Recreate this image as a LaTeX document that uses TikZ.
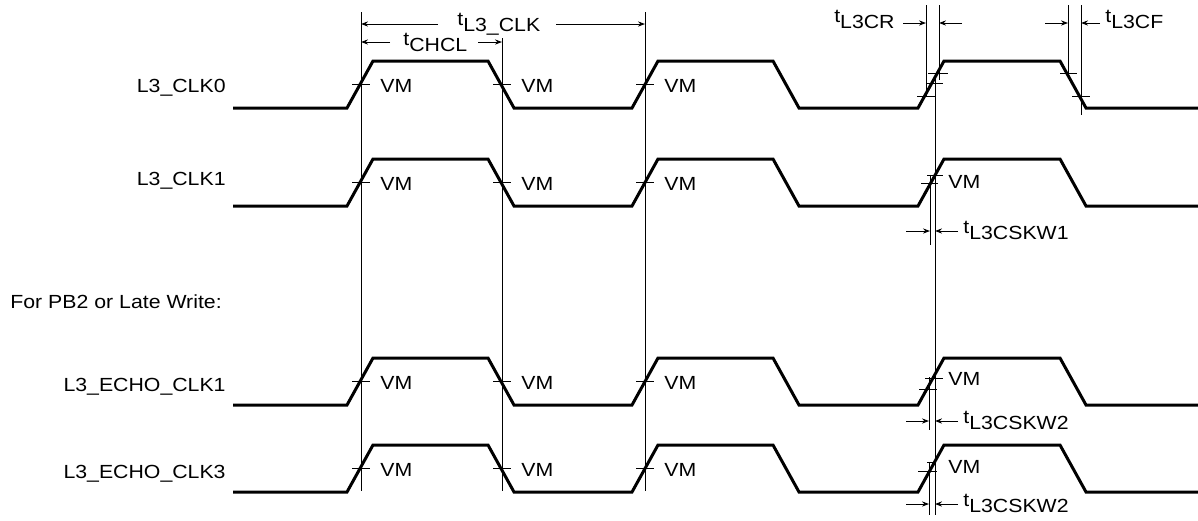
\documentclass[tikz,border=0pt]{standalone}
\usepackage{fontspec}
\setmainfont{Liberation Sans}[FakeStretch=1.12]
\usetikzlibrary{arrows.meta}
\newcommand{\tsub}[1]{t\raisebox{-0.33em}{#1}}

\begin{document}
\begin{tikzpicture}[x=0.5pt, y=-0.5pt,
        wave/.style = {line width=1.5pt, line join=miter},
        guide/.style = {line width=0.5pt},
        dim/.style = {line width=0.5pt, -{Stealth[length=3.5pt, width=2.6pt]}},
        lbl/.style = {font=\fontsize{9.5pt}{10.5pt}\selectfont, inner sep=0pt}]
        \useasboundingbox (0,0) rectangle (1198,520);

        % signal names
        \node[lbl, anchor=base east] (clk0) at (226,92) {L3\_CLK0};
        \node[lbl, anchor=base east] (clk1) at (226,185) {L3\_CLK1};
        \node[lbl, anchor=base west] (pb2) at (10,308) {For PB2 or Late Write:};
        \node[lbl, anchor=base east] (echo1) at (226,391) {L3\_ECHO\_CLK1};
        \node[lbl, anchor=base east] (echo3) at (226,478) {L3\_ECHO\_CLK3};

        % waveforms with VM marks
        \foreach \hi/\lo in {61/108, 159/206, 358/405, 445/492}{
            \draw[wave] (233,\lo) -- (347,\lo) -- (373,\hi) -- (488,\hi) -- (514,\lo)
                -- (632,\lo) -- (658,\hi) -- (773,\hi) -- (799,\lo)
                -- (918,\lo) -- (944,\hi) -- (1060,\hi) -- (1086,\lo) -- (1198,\lo);
            \pgfmathsetmacro\vm{(\hi+\lo)/2}
            \foreach \x in {361,502,645}{
                \draw[guide] (\x-9,\vm) -- (\x+9,\vm);
                \node[lbl, anchor=base west] (vm-\x-\lo) at (\x+19,\vm+8) {VM};
            }
        }
        \node[lbl, anchor=base west] (vm1) at (948,188) {VM};
        \node[lbl, anchor=base west] (vm2) at (948,385) {VM};
        \node[lbl, anchor=base west] (vm3) at (948,473) {VM};

        % reference lines
        \coordinate (v1) at (361,12);
        \coordinate (v2) at (502,38);
        \coordinate (v3) at (645,12);
        \coordinate (r1) at (926,5);
        \coordinate (r2) at (939,5);
        \coordinate (f1) at (1068,5);
        \coordinate (f2) at (1081,5);
        \coordinate (sk) at (935,75);
        \foreach \v in {v1,v2,v3}{
            \draw[guide] (\v) -- (\v |- 0,491);
        }
        \draw[guide] (r1) -- (r1 |- 0,97);
        \draw[guide] (r2) -- (r2 |- 0,80);
        \draw[guide] (f1) -- (f1 |- 0,75);
        \draw[guide] (f2) -- (f2 |- 0,115);
        \draw[guide] (sk) -- (sk |- 0,515);
        \coordinate (s1) at (930,175);
        \coordinate (s2) at (929,377);
        \coordinate (s3) at (929,462);
        \draw[guide] (s1) -- (s1 |- 0,245);
        \draw[guide] (s2) -- (s2 |- 0,430);
        \draw[guide] (s3) -- (s3 |- 0,515);

        % level ticks on the skewed edges
        \draw[guide] (928,73) -- (948,73);
        \draw[guide] (927,83) -- (943,83);
        \draw[guide] (917,96) -- (935,96);
        \draw[guide] (1060,73) -- (1077,73);
        \draw[guide] (1072,96) -- (1090,96);
        \draw[guide] (927,175) -- (943,175);
        \draw[guide] (921,183) -- (938,183);
        \draw[guide] (925,378) -- (943,378);
        \draw[guide] (919,389) -- (937,389);
        \draw[guide] (927,462) -- (935,462);
        \draw[guide] (918,471) -- (937,471);

        % timing labels
        \node[lbl, anchor=base west] (tclk) at (457,25) {\tsub{L3\_CLK}};
        \coordinate (clkL) at (438,24);
        \coordinate (clkR) at (556,24);
        \draw[dim] (clkL) -- (clkL -| v1);
        \draw[dim] (clkR) -- (clkR -| v3);

        \node[lbl, anchor=base west] (tchcl) at (403,45) {\tsub{CHCL}};
        \coordinate (chL) at (390,42);
        \coordinate (chR) at (478,42);
        \draw[dim] (chL) -- (chL -| v1);
        \draw[dim] (chR) -- (chR -| v2);

        \node[lbl, anchor=base east] (tcr) at (895,22) {\tsub{L3CR}};
        \coordinate (crL) at (903,23);
        \coordinate (crR) at (962,23);
        \draw[dim] (crL) -- (crL -| r1);
        \draw[dim] (crR) -- (crR -| r2);

        \node[lbl, anchor=base west] (tcf) at (1105,22) {\tsub{L3CF}};
        \coordinate (cfL) at (1045,23);
        \coordinate (cfR) at (1100,23);
        \draw[dim] (cfL) -- (cfL -| f1);
        \draw[dim] (cfR) -- (cfR -| f2);

        \foreach \s/\y/\n in {s1/231/1, s2/421/2, s3/504/2}{
            \coordinate (kL) at (906,\y);
            \coordinate (kR) at (958,\y);
            \draw[dim] (kL) -- (kL -| \s);
            \draw[dim] (kR) -- (kR -| sk);
            \node[lbl, anchor=base west] (tskw-\s) at (963,\y+2) {\tsub{L3CSKW\n}};
        }
    \end{tikzpicture}
\end{document}
